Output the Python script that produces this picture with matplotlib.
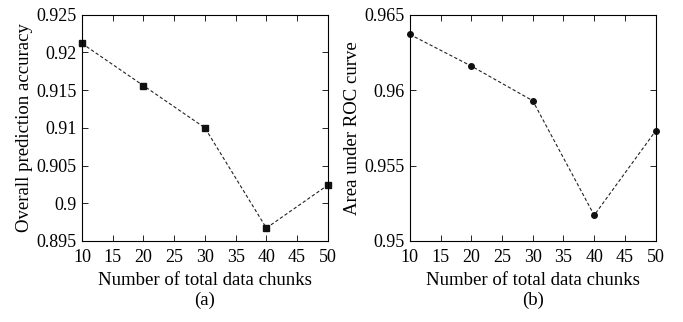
import matplotlib
matplotlib.use('Agg')
import matplotlib.pyplot as plt
from matplotlib.ticker import FormatStrFormatter

plt.rcParams['font.family'] = ['Liberation Serif', 'DejaVu Serif']
plt.rcParams['font.size'] = 13

chunks = [10, 20, 30, 40, 50]
accuracy = [0.9212, 0.9156, 0.9100, 0.8967, 0.9024]
auc = [0.9637, 0.9616, 0.9593, 0.9517, 0.9573]

acc_ticks = [0.895, 0.9, 0.905, 0.91, 0.915, 0.92, 0.925]
auc_ticks = [0.95, 0.955, 0.96, 0.965]
x_ticks = [10, 15, 20, 25, 30, 35, 40, 45, 50]

fig = plt.figure(figsize=(6.83, 3.22), dpi=100)
ax1 = fig.add_axes([0.120, 0.252, 0.360, 0.702])
ax2 = fig.add_axes([0.600, 0.252, 0.360, 0.702])

panels = [
    (ax1, accuracy, 's', 'Overall prediction accuracy', acc_ticks, '(a)'),
    (ax2, auc, 'o', 'Area under ROC curve', auc_ticks, '(b)'),
]

for ax, vals, mk, ylab, yt, tag in panels:
    ax.plot(chunks, vals, linestyle='--', color='#222222', linewidth=0.8,
            marker=mk, markersize=4, markerfacecolor='#111111',
            markeredgecolor='#111111', dashes=(3, 2), clip_on=False)
    ax.set_xlim(10, 50)
    ax.set_ylim(yt[0], yt[-1])
    ax.set_xticks(x_ticks)
    ax.set_yticks(yt)
    ax.yaxis.set_major_formatter(FormatStrFormatter('%g'))
    ax.tick_params(direction='in', top=True, right=True, length=4,
                   width=0.6, labelsize=13)
    ax.tick_params(axis='x', pad=6)
    ax.tick_params(axis='y', pad=4)
    for s in ax.spines.values():
        s.set_linewidth(0.8)
    ax.set_xlabel('Number of total data chunks', fontsize=13.5, labelpad=4)
    ax.set_ylabel(ylab, fontsize=13.5, labelpad=2)
    ax.text(0.5, -0.265, tag, transform=ax.transAxes, ha='center',
            va='center', fontsize=13.5)

fig.savefig('out.png', dpi=100)
plt.close('all')
